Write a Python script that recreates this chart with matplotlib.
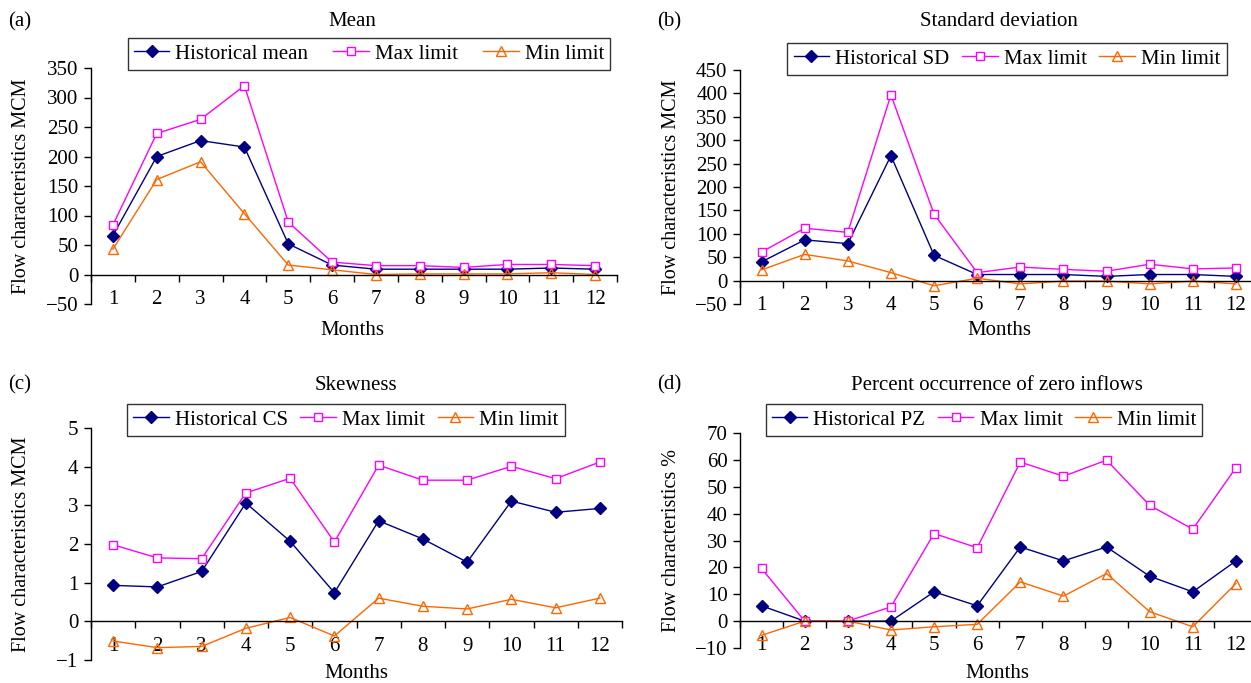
import matplotlib
matplotlib.use("Agg")
from matplotlib import pyplot as plt
from matplotlib.ticker import FixedLocator

plt.rcParams['font.family'] = ['Liberation Serif', 'DejaVu Serif']

months = list(range(1, 13))

# (a) mean
mean_hist = [66, 200, 227, 216, 52, 16, 9, 9, 9, 9, 11, 9]
mean_max = [84, 239, 263, 320, 89, 21, 15, 15, 12, 17, 17, 15]
mean_min = [43, 161, 191, 103, 16, 8, 0, 1, 1, 1, 3, 0]

# (b) standard deviation
sd_hist = [40, 87, 79, 267, 54, 13, 13, 13, 9, 13, 13, 9]
sd_max = [61, 112, 103, 397, 142, 17, 29, 24, 20, 35, 25, 27]
sd_min = [23, 56, 42, 17, -11, 5, -7, -1, -1, -7, -1, -7]

# (c) skewness
cs_hist = [0.93, 0.89, 1.29, 3.06, 2.07, 0.74, 2.60, 2.13, 1.53, 3.11, 2.82, 2.92]
cs_max = [1.98, 1.64, 1.62, 3.32, 3.70, 2.05, 4.04, 3.65, 3.65, 4.01, 3.69, 4.12]
cs_min = [-0.51, -0.68, -0.65, -0.18, 0.10, -0.38, 0.60, 0.39, 0.32, 0.57, 0.35, 0.60]

# (d) percent occurrence of zero inflows
pz_hist = [5.7, 0, 0, 0, 10.9, 5.7, 27.6, 22.4, 27.6, 16.7, 10.9, 22.4]
pz_max = [19.6, 0, 0, 5.3, 32.6, 27.3, 59.2, 53.9, 59.9, 43.1, 34.2, 57.1]
pz_min = [-5.3, 0, 0, -3.3, -2.1, -1.2, 14.6, 9.3, 17.7, 3.5, -2.1, 14.0]

W, H = 1251, 683
fig = plt.figure(figsize=(W / 100, H / 100), dpi=100)

navy = '#000080'
magenta = '#FF00FF'
orange = '#FF6600'


def panel(rect, hist, mx, mn, hist_label, ylim, yticks, xmax,
          tag, title, title_xy, tag_xy, months_xy, ylabel, ylabel_xy,
          leg_xy, colsp):
    l, t, r, b = rect
    ax = fig.add_axes([l / W, 1 - b / H, (r - l) / W, (b - t) / H])
    ax.plot(months, hist, color=navy, lw=1, marker='D', ms=6.5,
            mfc=navy, mec=navy, label=hist_label, clip_on=False)
    ax.plot(months, mx, color=magenta, lw=1, marker='s', ms=5.5,
            mfc='white', mec=magenta, mew=1, label='Max limit', clip_on=False)
    ax.plot(months, mn, color=orange, lw=1, marker='^', ms=6.5,
            mfc='none', mec=orange, mew=1, label='Min limit', clip_on=False)
    ax.set_xlim(0.5, xmax)
    ax.set_ylim(*ylim)
    ax.set_yticks(yticks)
    ax.set_xticks(months)
    ax.xaxis.set_minor_locator(FixedLocator([i + 0.5 for i in range(0, 13)]))
    ax.spines['top'].set_visible(False)
    ax.spines['right'].set_visible(False)
    ax.spines['bottom'].set_position(('data', 0))
    ax.spines['left'].set_linewidth(1)
    ax.spines['bottom'].set_linewidth(1)
    ax.tick_params(axis='y', direction='out', length=5, width=1,
                   labelsize=15, pad=4)
    ax.tick_params(axis='x', which='major', length=0, labelsize=15, pad=11)
    ax.tick_params(axis='x', which='minor', direction='out', length=5, width=1)
    ax.set_facecolor('none')
    leg = ax.legend(loc='center', bbox_to_anchor=(leg_xy[0] / W, 1 - leg_xy[1] / H),
                    bbox_transform=fig.transFigure, ncol=3, fontsize=15,
                    frameon=True, fancybox=False, edgecolor='black',
                    borderpad=0.3, handlelength=1.7, handletextpad=0.3,
                    columnspacing=colsp, borderaxespad=0)
    leg.get_frame().set_linewidth(1)
    fig.text(title_xy[0] / W, 1 - title_xy[1] / H, title, ha='center',
             va='center', fontsize=15)
    fig.text(tag_xy[0] / W, 1 - tag_xy[1] / H, tag, ha='center',
             va='center', fontsize=15)
    fig.text(months_xy[0] / W, 1 - months_xy[1] / H, 'Months', ha='center',
             va='center', fontsize=15)
    fig.text(ylabel_xy[0] / W, 1 - ylabel_xy[1] / H, ylabel, ha='center',
             va='center', rotation=90, fontsize=14.5)
    return ax


panel((91, 68, 617, 304), mean_hist, mean_max, mean_min, 'Historical mean',
      (-50, 350), range(-50, 351, 50), 12.5,
      '(a)', 'Mean', (352, 22), (20, 22), (352, 330),
      'Flow characteristics MCM', (22, 186), (369, 54), 1.2)

panel((740, 70, 1251, 304), sd_hist, sd_max, sd_min, 'Historical SD',
      (-50, 450), range(-50, 451, 50), 12.35,
      '(b)', 'Standard deviation', (999, 22), (669, 22), (999, 330),
      'Flow characteristics MCM', (671, 187), (1007, 59), 0.6)

panel((91, 428, 622, 660), cs_hist, cs_max, cs_min, 'Historical CS',
      (-1, 5), range(-1, 6), 12.5,
      '(c)', 'Skewness', (356, 385), (20, 385), (356, 673),
      'Flow characteristics MCM', (22, 544), (346, 420), 0.6)

panel((740, 433, 1251, 648), pz_hist, pz_max, pz_min, 'Historical PZ',
      (-10, 70), range(-10, 71, 10), 12.35,
      '(d)', 'Percent occurrence of zero inflows', (997, 385), (669, 385),
      (997, 673), 'Flow characteristics %', (671, 540), (984, 420), 0.6)

plt.savefig('out.png', dpi=100)
